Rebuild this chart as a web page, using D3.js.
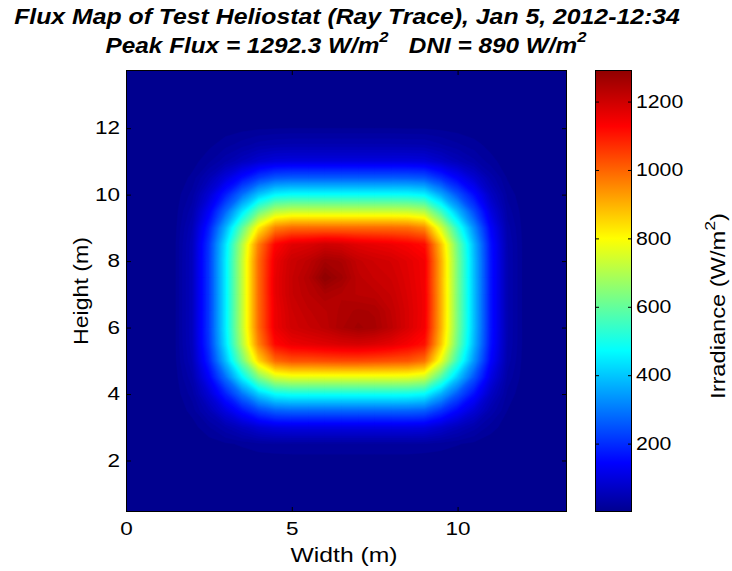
<!DOCTYPE html>
<html>
<head>
<meta charset="utf-8">
<script src="https://cdn.jsdelivr.net/npm/d3@7"></script>
<style>
  body { margin: 0; background: #fff; }
  svg { display: block; font-family: "Liberation Sans", Arial, Helvetica, sans-serif; }
  .title { font-size: 22px; font-weight: bold; font-style: italic; fill: #000; white-space: pre; }
  .lab { font-size: 20px; fill: #000; }
  .tick text { font-size: 18px; fill: #000; font-family: "Liberation Sans", Arial, sans-serif; }
</style>
</head>
<body>
<svg id="chart" width="732" height="571"></svg>
<script>
// Receiver grid: column positions (m) and row positions (m, top row first)
const xCols = [0, 0.5, 1, 1.5, 2, 2.5, 3, 3.5, 4, 4.5, 5, 5.5, 6, 6.5, 7, 7.5, 8, 8.5, 9, 9.5, 10, 10.5, 11, 11.5, 12, 12.5, 13];
const yRows = [13.5, 13, 12.5, 12, 11.5, 11, 10.5, 10, 9.5, 9, 8.5, 8, 7.5, 7, 6.5, 6, 5.5, 5, 4.5, 4, 3.5, 3, 2.5, 2, 1.5, 1, 0.5];

// Irradiance on the grid (W/m^2), one row per height in yRows
const fluxRows = [
  [0,0,0, 0,0,0,0,0,0,0,0,0,0,0,0,0,0,0,0,0,0,0,0,0,0, 0,0],
  [0,0,0, 0,0,0,0,0,0,0,0,0,0,0,0,0,0,0,0,0,0,0,0,0,0, 0,0],
  [0,0,0, 0,0,0,0,0,0,0,0,0,0,0,0,0,0,0,0,0,0,0,0,0,0, 0,0],
  [0,0,0, 0,0,2,4,6,8,9,10,10,10,10,10,10,10,9,9,7,5,3,1,0,0, 0,0],
  [0,0,0, 0,2,7,16,25,35,40,42,42,42,42,42,42,42,41,40,31,22,14,6,1,0, 0,0],
  [0,0,0, 1,5,18,38,61,84,98,101,101,101,101,101,101,101,101,97,76,53,33,14,4,1, 0,0],
  [0,0,0, 2,13,47,98,157,217,254,262,262,262,262,262,262,262,260,251,198,138,85,37,9,1, 0,0],
  [0,0,0, 4,24,86,178,286,395,462,476,476,476,476,476,476,476,474,457,359,250,155,67,17,2, 0,0],
  [0,0,0, 6,37,131,272,436,603,704,726,726,726,726,726,726,726,722,697,548,381,236,102,26,4, 0,0],
  [0,0,0, 8,50,178,370,593,820,958,988,988,988,988,988,988,988,983,948,745,519,321,139,35,5, 0,0],
  [0,0,0, 10,58,209,435,696,963,1125,1170,1180,1199,1190,1170,1160,1151,1135,1113,876,609,377,163,41,6, 0,0],
  [0,0,0, 10,60,214,446,714,988,1154,1205,1225,1260,1250,1215,1200,1190,1169,1142,898,625,387,167,42,6, 0,0],
  [0,0,0, 10,60,214,446,714,988,1160,1210,1240,1292.3,1265,1225,1210,1200,1174,1142,898,625,387,167,42,6, 0,0],
  [0,0,0, 10,60,214,446,714,988,1160,1210,1230,1250,1240,1230,1225,1210,1179,1145,900,626,388,167,42,6, 0,0],
  [0,0,0, 10,60,214,446,714,988,1154,1200,1220,1230,1245,1255,1250,1220,1184,1145,900,626,388,167,42,6, 0,0],
  [0,0,0, 10,60,214,446,714,988,1154,1195,1210,1225,1250,1265,1255,1225,1184,1142,898,625,387,167,42,6, 0,0],
  [0,0,0, 10,58,208,433,693,958,1119,1154,1164,1174,1183,1188,1179,1164,1139,1108,871,606,375,162,41,6, 0,0],
  [0,0,0, 9,51,184,384,614,850,992,1023,1023,1030,1035,1035,1030,1023,1018,982,772,538,333,144,36,5, 0,0],
  [0,0,0, 6,38,137,285,457,632,739,762,762,762,762,762,762,762,758,731,575,400,248,107,27,4, 0,0],
  [0,0,0, 4,25,88,183,293,405,473,488,488,488,488,488,488,488,485,468,368,256,159,68,17,2, 0,0],
  [0,0,0, 2,14,49,103,164,227,265,274,274,274,274,274,274,274,272,263,207,144,89,38,10,1, 0,0],
  [0,0,0, 1,5,19,40,64,89,104,107,107,107,107,107,107,107,107,103,81,56,35,15,4,1, 0,0],
  [0,0,0, 0,1,4,8,12,17,20,20,20,20,20,20,20,20,20,19,15,11,7,3,1,0, 0,0],
  [0,0,0, 0,0,1,1,2,3,3,4,4,4,4,4,4,4,4,3,3,2,1,1,0,0, 0,0],
  [0,0,0, 0,0,0,0,0,0,0,0,0,0,0,0,0,0,0,0,0,0,0,0,0,0, 0,0],
  [0,0,0, 0,0,0,0,0,0,0,0,0,0,0,0,0,0,0,0,0,0,0,0,0,0, 0,0],
  [0,0,0, 0,0,0,0,0,0,0,0,0,0,0,0,0,0,0,0,0,0,0,0,0,0, 0,0]
];

// Axis extents and tick labels
const xDomain = [0, 13.3];
const yDomain = [0.45, 13.75];
const xTicks = [0, 5, 10];
const yTicks = [2, 4, 6, 8, 10, 12];
const cTicks = [200, 400, 600, 800, 1000, 1200];
const dni = 890;

// Jet colour map stops (fraction of colour range) and their colours
const jetStops = [0, 0.111, 0.365, 0.619, 0.873, 1];
const jetColors = ["#00008f", "#0000ff", "#00ffff", "#ffff00", "#ff0000", "#8f0000"];

const svg = d3.select("#chart");
const plot = { left: 126, right: 567, top: 70, bottom: 512 };
const bar = { left: 595, right: 632 };

const x = d3.scaleLinear().domain(xDomain).range([plot.left, plot.right]);
const y = d3.scaleLinear().domain(yDomain).range([plot.bottom, plot.top]);

const values = fluxRows.flat();
const cmax = d3.max(values);
const color = d3.scaleLinear()
  .domain(jetStops.map(s => s * cmax))
  .range(jetColors)
  .interpolate(d3.interpolateRgb)
  .clamp(true);

// Widen a text horizontally about its anchor point
function stretch(sel, sx) {
  sel.each(function () {
    const t = d3.select(this);
    const ax = +t.attr("x") || 0, ay = +t.attr("y") || 0;
    const prev = t.attr("transform") || "";
    t.attr("transform", `${prev} translate(${ax},${ay}) scale(${sx},1) translate(${-ax},${-ay})`);
  });
}
// Widen a text so that it spans a given width
function fitWidth(sel, width) {
  const w = sel.node().getComputedTextLength();
  stretch(sel, width / w);
}

// Grid index -> metres (cell centres sit at index + 0.5 in contour space)
const nx = xCols.length, ny = yRows.length;
const colToX = d3.scaleLinear().domain([0.5, nx - 0.5]).range([xCols[0], xCols[nx - 1]]);
const rowToY = d3.scaleLinear().domain([0.5, ny - 0.5]).range([yRows[0], yRows[ny - 1]]);
const gridProj = d3.geoTransform({
  point(cx, cy) { this.stream.point(x(colToX(cx)), y(rowToY(cy))); }
});
const path = d3.geoPath(gridProj);

const defs = svg.append("defs");
defs.append("clipPath").attr("id", "plotClip")
  .append("rect")
  .attr("x", plot.left).attr("y", plot.top)
  .attr("width", plot.right - plot.left).attr("height", plot.bottom - plot.top);

// Flux map: filled iso-bands
const nLevels = 128;
const step = cmax / nLevels;
const levels = d3.range(1, nLevels).map(i => i * step);
const bands = d3.contours().size([nx, ny]).thresholds(levels)(values);

const map = svg.append("g").attr("clip-path", "url(#plotClip)");
map.append("rect")
  .attr("x", plot.left).attr("y", plot.top)
  .attr("width", plot.right - plot.left).attr("height", plot.bottom - plot.top)
  .attr("fill", color(0));
map.selectAll("path.band")
  .data(bands)
  .join("path")
  .attr("class", "band")
  .attr("d", path)
  .attr("fill", d => color(d.value + step / 2))
  .attr("stroke", d => color(d.value + step / 2))
  .attr("stroke-width", 0.4);

// Axes with inward ticks on all four sides
const tickLen = 5;
const gx = svg.append("g").attr("class", "axis")
  .attr("transform", `translate(0,${plot.bottom})`)
  .call(d3.axisBottom(x).tickValues(xTicks).tickSizeInner(-tickLen).tickSizeOuter(0).tickPadding(10).tickFormat(d3.format("d")));
svg.append("g").attr("class", "axis")
  .attr("transform", `translate(0,${plot.top})`)
  .call(d3.axisTop(x).tickValues(xTicks).tickSizeInner(-tickLen).tickSizeOuter(0).tickFormat(""));
const gy = svg.append("g").attr("class", "axis")
  .attr("transform", `translate(${plot.left},0)`)
  .call(d3.axisLeft(y).tickValues(yTicks).tickSizeInner(-tickLen).tickSizeOuter(0).tickPadding(6).tickFormat(d3.format("d")));
svg.append("g").attr("class", "axis")
  .attr("transform", `translate(${plot.right},0)`)
  .call(d3.axisRight(y).tickValues(yTicks).tickSizeInner(-tickLen).tickSizeOuter(0).tickFormat(""));
svg.selectAll(".axis .domain").remove();
svg.selectAll(".axis .tick line").attr("stroke", "#000");
stretch(gx.selectAll(".tick text"), 1.25);
stretch(gy.selectAll(".tick text"), 1.25);

svg.append("rect")
  .attr("x", plot.left + 0.5).attr("y", plot.top + 0.5)
  .attr("width", plot.right - plot.left - 1).attr("height", plot.bottom - plot.top - 1)
  .attr("fill", "none").attr("stroke", "#000");

// Colour bar
const cy = d3.scaleLinear().domain([0, cmax]).range([plot.bottom, plot.top]);
const grad = defs.append("linearGradient").attr("id", "jetGrad")
  .attr("x1", 0).attr("y1", 1).attr("x2", 0).attr("y2", 0);
grad.selectAll("stop")
  .data(color.domain())
  .join("stop")
  .attr("offset", d => d / cmax)
  .attr("stop-color", d => color(d));
svg.append("rect")
  .attr("x", bar.left).attr("y", plot.top)
  .attr("width", bar.right - bar.left).attr("height", plot.bottom - plot.top)
  .attr("fill", "url(#jetGrad)");
const gc = svg.append("g").attr("class", "axis")
  .attr("transform", `translate(${bar.right},0)`)
  .call(d3.axisRight(cy).tickValues(cTicks).tickSizeInner(-4).tickSizeOuter(0).tickPadding(4).tickFormat(d3.format("d")));
svg.append("g").attr("class", "axis")
  .attr("transform", `translate(${bar.left},0)`)
  .call(d3.axisLeft(cy).tickValues(cTicks).tickSizeInner(-4).tickSizeOuter(0).tickFormat(""));
svg.selectAll(".axis .domain").remove();
svg.selectAll(".axis .tick line").attr("stroke", "#000");
stretch(gc.selectAll(".tick text"), 1.18);
svg.append("rect")
  .attr("x", bar.left + 0.5).attr("y", plot.top + 0.5)
  .attr("width", bar.right - bar.left - 1).attr("height", plot.bottom - plot.top - 1)
  .attr("fill", "none").attr("stroke", "#000");

// Titles and axis labels
const fmt = d3.format(".1f");
const t1 = svg.append("text").attr("class", "title")
  .attr("x", 347).attr("y", 24).attr("text-anchor", "middle")
  .text("Flux Map of Test Heliostat (Ray Trace), Jan 5, 2012-12:34");
fitWidth(t1, 666);
const t2 = svg.append("text").attr("class", "title")
  .attr("x", 346).attr("y", 53).attr("text-anchor", "middle");
t2.append("tspan").text(`Peak Flux = ${fmt(cmax)} W/m`);
t2.append("tspan").attr("dy", -11).attr("font-size", 15).text("2");
t2.append("tspan").attr("dy", 11).text(`   DNI = ${dni} W/m`);
t2.append("tspan").attr("dy", -11).attr("font-size", 15).text("2");
fitWidth(t2, 481);

const xl = svg.append("text").attr("class", "lab")
  .attr("x", 344).attr("y", 562).attr("text-anchor", "middle")
  .text("Width (m)");
fitWidth(xl, 107);
const yl = svg.append("text").attr("class", "lab")
  .attr("transform", `translate(88,291) rotate(-90)`)
  .attr("text-anchor", "middle")
  .text("Height (m)");
fitWidth(yl, 108);
const cl = svg.append("text").attr("class", "lab")
  .attr("transform", `translate(725,306) rotate(-90)`)
  .attr("text-anchor", "middle");
cl.append("tspan").text("Irradiance (W/m");
cl.append("tspan").attr("dy", -10).attr("font-size", 15).text("2");
cl.append("tspan").attr("dy", 10).text(")");
fitWidth(cl, 186);
</script>
</body>
</html>
